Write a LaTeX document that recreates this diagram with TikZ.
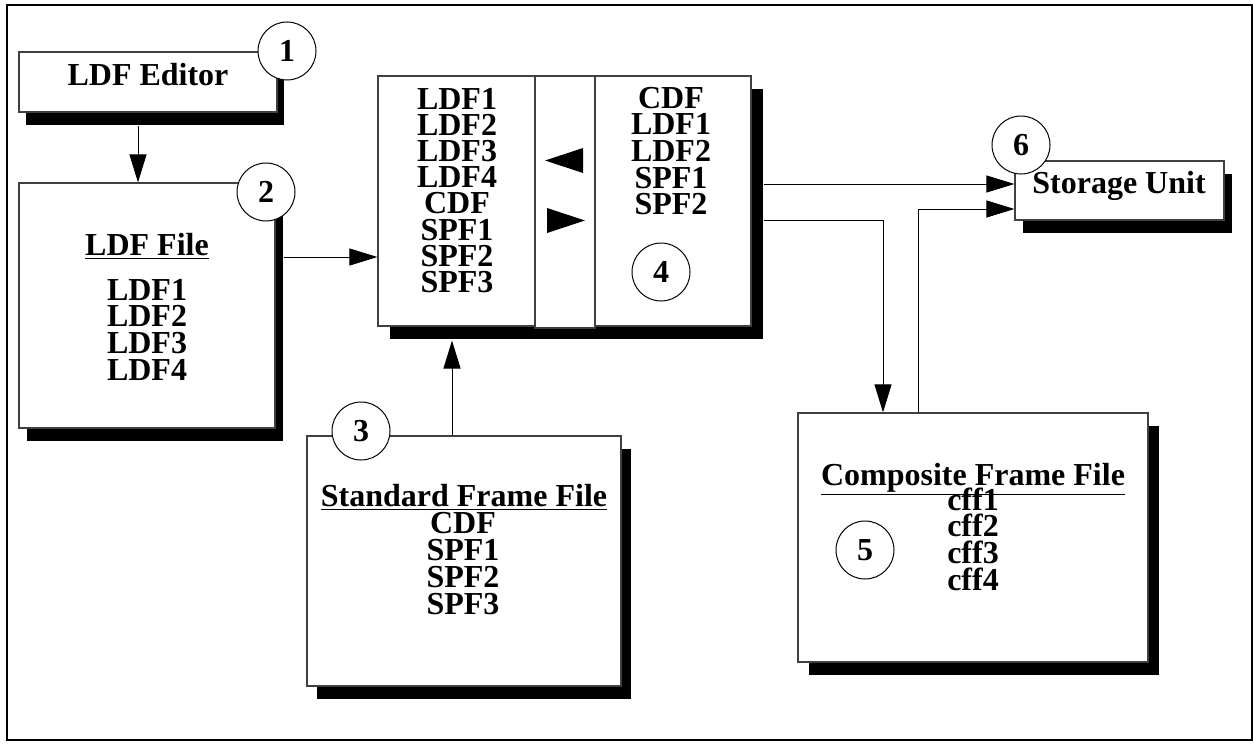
\documentclass[tikz,border=0pt]{standalone}
\usepackage{fontspec}
\setmainfont{Liberation Serif}
\usetikzlibrary{arrows.meta,shadows}

\tikzset{
  box/.style={draw=black!75, line width=0.6pt, fill=white, inner sep=0pt},
  shbox/.style={box, general shadow={fill=black, shadow xshift=#1, shadow yshift=-6.5pt}},
  shbox/.default=5pt,
  num/.style={draw, circle, fill=white, line width=0.5pt, minimum size=29pt, inner sep=0pt, font=\bfseries\fontsize{16}{16}\selectfont},
  txt/.style={inner sep=0pt, anchor=base, text height=10pt, text depth=0pt, font=\bfseries\fontsize{16}{13}\selectfont},
  arr/.style={line width=0.5pt, -{Triangle[length=14pt,width=8.5pt]}}
}

\begin{document}
\begin{tikzpicture}[x=0.5pt, y=-0.5pt]
  \useasboundingbox (0,0) rectangle (1253,744);
  % Frame
  \draw[line width=0.8pt] (7,5) rectangle (1252,740);

  % Boxes
  \node[shbox=3.5pt, minimum width=129pt, minimum height=30pt] (editor) at (148,82) {};
  \node[shbox=4pt, minimum width=128pt, minimum height=122.5pt] (ldffile) at (147,305.5) {};
  \node[shbox=6pt, minimum width=186.5pt, minimum height=125pt] (swap) at (564.5,201) {};
  \node[box, minimum width=30pt, minimum height=126pt] (mid) at (565,202) {};
  \node[shbox=5pt, minimum width=157pt, minimum height=125pt] (standard) at (464,561) {};
  \node[shbox=5.5pt, minimum width=175pt, minimum height=124.5pt] (composite) at (973,537.5) {};
  \node[shbox=4pt, minimum width=104.5pt, minimum height=29.5pt] (storage) at (1119.5,190.5) {};

  % Swap arrows
  \fill (583,148) -- (545,160.5) -- (583,173) -- cycle;
  \fill (547,208) -- (585,220.5) -- (547,233) -- cycle;

  % Texts
  \node[txt] (editor-txt) at (148,85) {LDF Editor};
  \node[txt] (storage-txt) at (1119,193) {Storage Unit};
  \node[txt] (ldffile-txt) at (147,255) {\underline{LDF File}};
  \foreach \t [count=\i from 0] in {LDF1,LDF2,LDF3,LDF4}
    \node[txt] (ldffile-\i) at (147,300+26.7*\i) {\t};
  \foreach \t [count=\i from 0] in {LDF1,LDF2,LDF3,LDF4,CDF,SPF1,SPF2,SPF3}
    \node[txt] (swapl-\i) at (457,109+26.2*\i) {\t};
  \foreach \t [count=\i from 0] in {CDF,LDF1,LDF2,SPF1,SPF2}
    \node[txt] (swapr-\i) at (671,108+26.7*\i) {\t};
  \node[txt] (standard-txt) at (464,506) {\underline{Standard Frame File}};
  \foreach \t [count=\i from 0] in {CDF,SPF1,SPF2,SPF3}
    \node[txt] (standard-\i) at (463,533+27*\i) {\t};
  \node[txt] (composite-txt) at (973,485) {\underline{Composite Frame File}};
  \foreach \t [count=\i from 0] in {cff1,cff2,cff3,cff4}
    \node[txt] (composite-\i) at (973,510+26.7*\i) {\t};

  % Connectors
  \coordinate (ed-out) at ([shift={(-5pt,-6.5pt)}]editor.south);
  \draw[arr] (ed-out) -- (ed-out |- ldffile.north);
  \coordinate (ldf-out) at ([shift={(4pt,24.25pt)}]ldffile.east);
  \draw[arr] (ldf-out) -- (ldf-out -| swap.west);
  \coordinate (sff-out) at ([xshift=-6pt]standard.north);
  \coordinate (swap-in) at ([yshift=-7pt]swap.south);
  \draw[arr] (sff-out) -- (sff-out |- swap-in);
  \coordinate (swap-out1) at ([shift={(6pt,8.5pt)}]swap.east);
  \draw[arr] (swap-out1) -- (swap-out1 -| storage.west);
  \coordinate (swap-out2) at ([shift={(6pt,-9.5pt)}]swap.east);
  \coordinate (cff-in) at ([xshift=-45pt]composite.north);
  \draw[arr] (swap-out2) -| (cff-in);
  \coordinate (cff-out) at ([xshift=-27.5pt]composite.north);
  \coordinate (store-in) at ([yshift=-9.25pt]storage.west);
  \draw[arr] (cff-out) |- (store-in);

  % Numbers
  \node[num] (n1) at (287,51) {1};
  \node[num] (n2) at (266,192) {2};
  \node[num] (n3) at (361,431) {3};
  \node[num] (n4) at (661,272) {4};
  \node[num] (n5) at (865,550) {5};
  \node[num] (n6) at (1021,145) {6};
\end{tikzpicture}
\end{document}
